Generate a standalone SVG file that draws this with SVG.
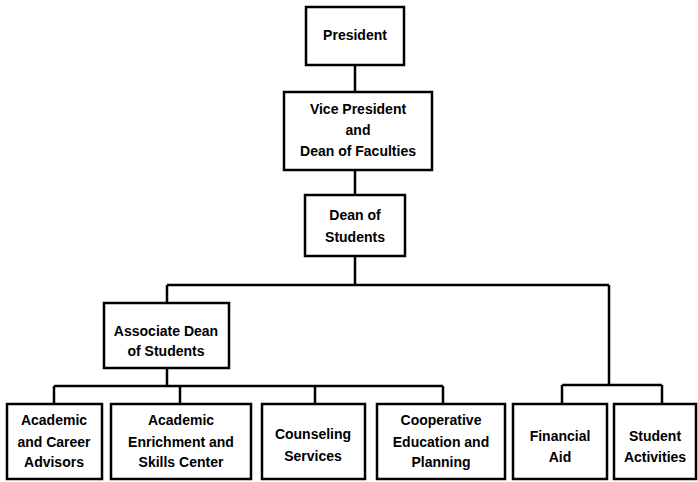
<svg xmlns="http://www.w3.org/2000/svg" width="698" height="482" viewBox="0 0 698 482">
<style>
rect{fill:#fff;stroke:#000;stroke-width:2.5}
text{font-family:"Liberation Sans",Arial,sans-serif;font-weight:bold;font-size:14px;text-anchor:middle;fill:#000}
.c path{fill:none;stroke:#000;stroke-width:2.5}
</style>
<rect x="0" y="0" width="698" height="482" style="stroke:none"/>
<g class="c" id="connectors">
<path d="M355 65V92M355 170V195M355 256V285M167 285H609M167 285V303M609 285V385M167 368V386M54 386H443M54 386V404M180 386V404M315 386V404M443 386V404M562 385H662M562 385V404M662 385V404"/>
</g>
<g id="president"><rect x="306" y="7" width="98" height="58"/><text x="355" y="40">President</text></g>
<g id="vp"><rect x="284" y="92" width="148" height="78"/><text x="358" y="114">Vice President</text><text x="358" y="135">and</text><text x="358" y="156">Dean of Faculties</text></g>
<g id="dean"><rect x="305" y="195" width="100" height="61"/><text x="355" y="220">Dean of</text><text x="355" y="242">Students</text></g>
<g id="assoc"><rect x="104" y="303" width="125" height="65"/><text x="166" y="336">Associate Dean</text><text x="166" y="356">of Students</text></g>
<g id="advisors"><rect x="7" y="404" width="95" height="75"/><text x="54" y="425">Academic</text><text x="54" y="447">and Career</text><text x="54" y="467">Advisors</text></g>
<g id="enrichment"><rect x="111" y="404" width="140" height="75"/><text x="181" y="425">Academic</text><text x="181" y="447">Enrichment and</text><text x="181" y="467">Skills Center</text></g>
<g id="counseling"><rect x="262" y="404" width="103" height="75"/><text x="313" y="439">Counseling</text><text x="313" y="461">Services</text></g>
<g id="coop"><rect x="377" y="404" width="128" height="75"/><text x="441" y="425">Cooperative</text><text x="441" y="447">Education and</text><text x="441" y="467">Planning</text></g>
<g id="finaid"><rect x="513" y="404" width="94" height="75"/><text x="560" y="441">Financial</text><text x="560" y="462">Aid</text></g>
<g id="activities"><rect x="614" y="404" width="82" height="75"/><text x="655" y="441">Student</text><text x="655" y="462">Activities</text></g>
</svg>
